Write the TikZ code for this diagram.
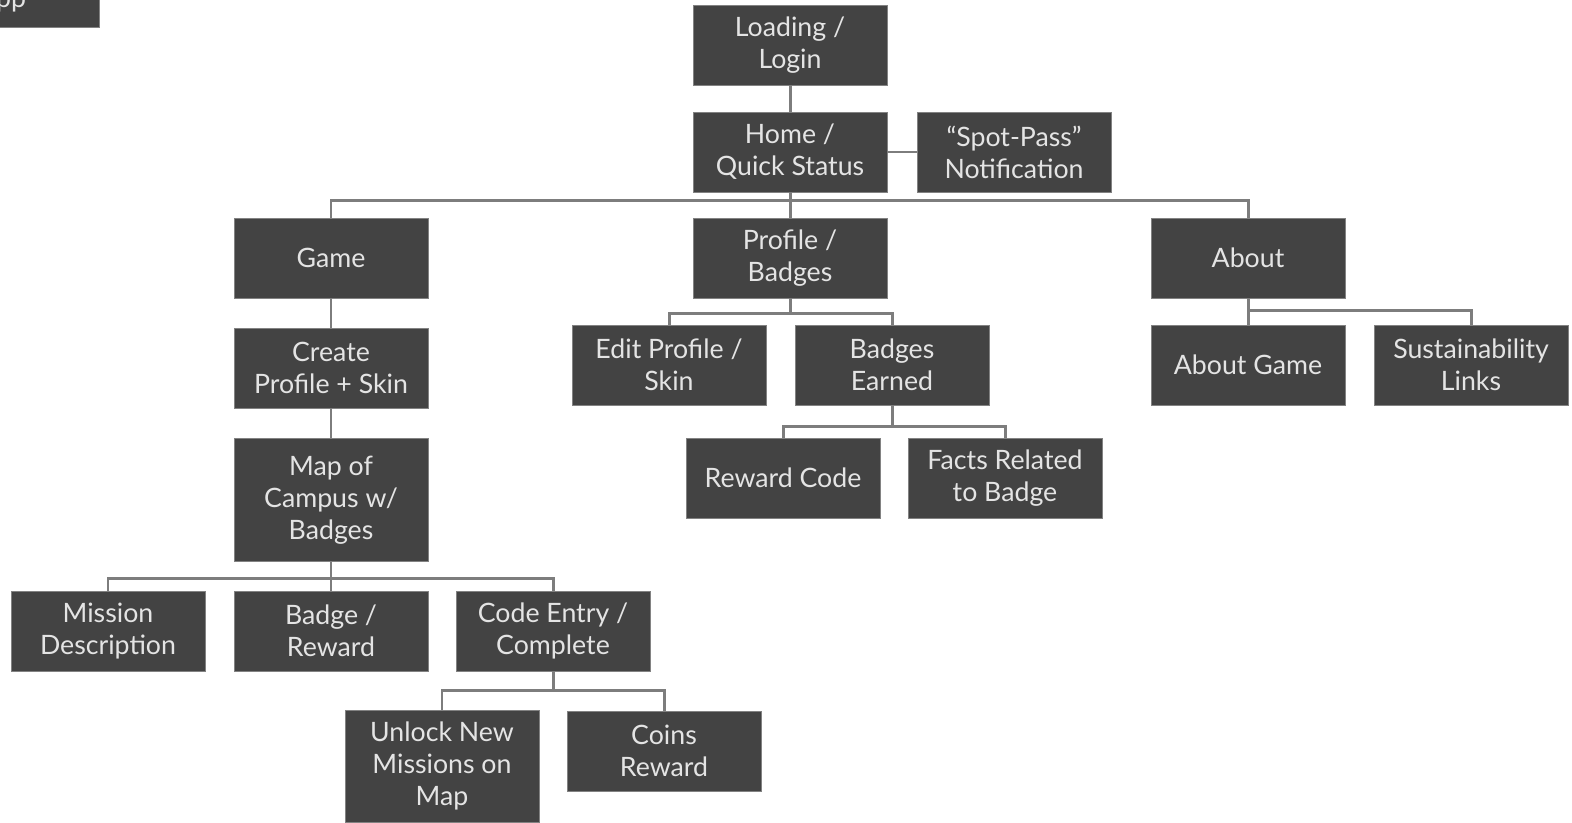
\documentclass[tikz,border=0pt]{standalone}
\usepackage{fontspec}
\setmainfont{Lato}
\usetikzlibrary{positioning, calc}
\definecolor{boxgray}{RGB}{67,67,67}
\definecolor{boxedge}{RGB}{130,130,130}
\definecolor{boxtext}{RGB}{228,228,228}
\definecolor{linegray}{RGB}{125,125,125}
\tikzset{
  screen/.style={rectangle, draw=boxedge, fill=boxgray, text=boxtext,
    minimum width=3.88cm, minimum height=1.6cm, align=center,
    font=\fontsize{15.2}{18.3}\selectfont, line width=0.5pt, inner sep=0pt},
  tallscreen/.style={screen, minimum height=2.46cm},
  link/.style={draw=linegray, line width=1.7pt}
}

\begin{document}
\begin{tikzpicture}[x=0.02cm, y=-0.02cm]
  \useasboundingbox (0,0) rectangle (1572,822);
  % cut-off box in the corner
  \node[screen, minimum height=1.08cm] (app) at (2,0) {App};
  % top of the tree
  \node[screen] (loading) at (790,45) {Loading /\\Login};
  \node[screen] (home) at (790,152) {Home /\\Quick Status};
  \node[screen] (spotpass) at (1014,152) {``Spot-Pass''\\Notification};
  % main sections
  \node[screen] (game) at (331,258) {Game};
  \node[screen] (profile) at (790,258) {Profile /\\Badges};
  \node[screen] (about) at (1248,258) {About};
  % game branch
  \node[screen] (create) at (331,368) {Create\\Profile + Skin};
  \node[tallscreen] (campusmap) at (331,500) {Map of\\Campus w/\\Badges};
  \node[screen] (mission) at (108,631) {Mission\\Description};
  \node[screen] (badgereward) at (331,631) {Badge /\\Reward};
  \node[screen] (codeentry) at (553,631) {Code Entry /\\Complete};
  \node[screen, minimum height=2.24cm] (unlock) at (442,766) {Unlock New\\Missions on\\Map};
  \node[screen] (coins) at (664,751) {Coins\\Reward};
  % profile branch
  \node[screen] (editprofile) at (669,365) {Edit Profile /\\Skin};
  \node[screen] (badgesearned) at (892,365) {Badges\\Earned};
  \node[screen] (rewardcode) at (783,478) {Reward Code};
  \node[screen] (facts) at (1005,478) {Facts Related\\to Badge};
  % about branch
  \node[screen] (aboutgame) at (1248,365) {About Game};
  \node[screen] (sustain) at (1471,365) {Sustainability\\Links};

  % connectors
  \draw[link] (loading) -- (home);
  \draw[link] (home) -- (spotpass);
  \draw[link] (home.south) -- ++(0,8) coordinate (mainbus) -| (game.north);
  \draw[link] (mainbus) -| (about.north);
  \draw[link] (mainbus) -- (profile.north);
  \draw[link] (game) -- (create);
  \draw[link] (create) -- (campusmap);
  \draw[link] (campusmap.south) -- ++(0,17) coordinate (mapbus) -| (mission.north);
  \draw[link] (mapbus) -| (codeentry.north);
  \draw[link] (mapbus) -- (badgereward.north);
  \draw[link] (codeentry.south) -- ++(0,19) coordinate (codebus) -| (unlock.north);
  \draw[link] (codebus) -| (coins.north);
  \draw[link] (profile.south) -- ++(0,15) coordinate (profbus) -| (editprofile.north);
  \draw[link] (profbus) -| (badgesearned.north);
  \draw[link] (badgesearned.south) -- ++(0,21) coordinate (earnbus) -| (rewardcode.north);
  \draw[link] (earnbus) -| (facts.north);
  \draw[link] (about.south) -- ++(0,12) coordinate (aboutbus) -| (sustain.north);
  \draw[link] (aboutbus) -- (aboutgame.north);
\end{tikzpicture}
\end{document}
